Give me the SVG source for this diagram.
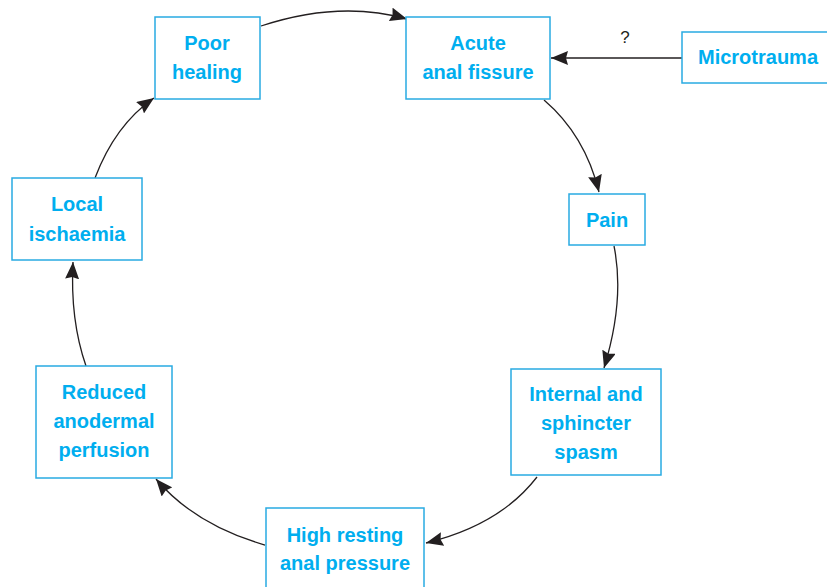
<svg xmlns="http://www.w3.org/2000/svg" width="827" height="587" viewBox="0 0 827 587">
<defs>
<marker id="ah" markerUnits="userSpaceOnUse" markerWidth="18" markerHeight="14" refX="17" refY="7" orient="auto">
<path d="M0,0 L17,7 L0,14 L2,7 z" fill="#231f20"/>
</marker>
<style>
.box{fill:#fff;stroke:#29abe2;stroke-width:1.5}
.t{font-family:"Liberation Sans",Arial,sans-serif;font-weight:bold;font-size:20px;fill:#00aeef;text-anchor:middle}
.c{fill:none;stroke:#231f20;stroke-width:1.3;marker-end:url(#ah)}
.q{font-family:"Liberation Sans",Arial,sans-serif;font-size:17px;fill:#231f20;text-anchor:middle}
</style>
</defs>
<rect width="827" height="587" fill="#fff"/>
<g id="connectors">
<path class="c" d="M261,26 Q340,0 407,19"/>
<path class="c" d="M544,100 Q585,135 599,192"/>
<path class="c" d="M614,246 Q625,300 604,368"/>
<path class="c" d="M537,477 Q500,525 426,543"/>
<path class="c" d="M265,545 Q195,525 156,479"/>
<path class="c" d="M86,366 Q70,320 73,262"/>
<path class="c" d="M95,178 Q115,125 154,98"/>
<path class="c" d="M682,58 L551,58"/>
<text class="q" x="625" y="43">?</text>
</g>
<g id="poor-healing">
<rect class="box" x="155" y="17" width="105" height="82"/>
<text class="t" x="207" y="50">Poor</text>
<text class="t" x="207" y="79">healing</text>
</g>
<g id="acute-anal-fissure">
<rect class="box" x="406" y="17" width="144" height="82"/>
<text class="t" x="478" y="50">Acute</text>
<text class="t" x="478" y="79">anal fissure</text>
</g>
<g id="microtrauma">
<rect class="box" x="682" y="32" width="152" height="51"/>
<text class="t" x="758" y="64">Microtrauma</text>
</g>
<g id="pain">
<rect class="box" x="569" y="194" width="76" height="51"/>
<text class="t" x="607" y="227">Pain</text>
</g>
<g id="internal-sphincter-spasm">
<rect class="box" x="511" y="369" width="150" height="106"/>
<text class="t" x="586" y="401">Internal and</text>
<text class="t" x="586" y="430">sphincter</text>
<text class="t" x="586" y="459">spasm</text>
</g>
<g id="high-resting-anal-pressure">
<rect class="box" x="266" y="508" width="158" height="90"/>
<text class="t" x="345" y="542">High resting</text>
<text class="t" x="345" y="570">anal pressure</text>
</g>
<g id="reduced-anodermal-perfusion">
<rect class="box" x="36" y="366" width="136" height="112"/>
<text class="t" x="104" y="399">Reduced</text>
<text class="t" x="104" y="428">anodermal</text>
<text class="t" x="104" y="457">perfusion</text>
</g>
<g id="local-ischaemia">
<rect class="box" x="12" y="178" width="130" height="82"/>
<text class="t" x="77" y="211">Local</text>
<text class="t" x="77" y="241">ischaemia</text>
</g>
</svg>
